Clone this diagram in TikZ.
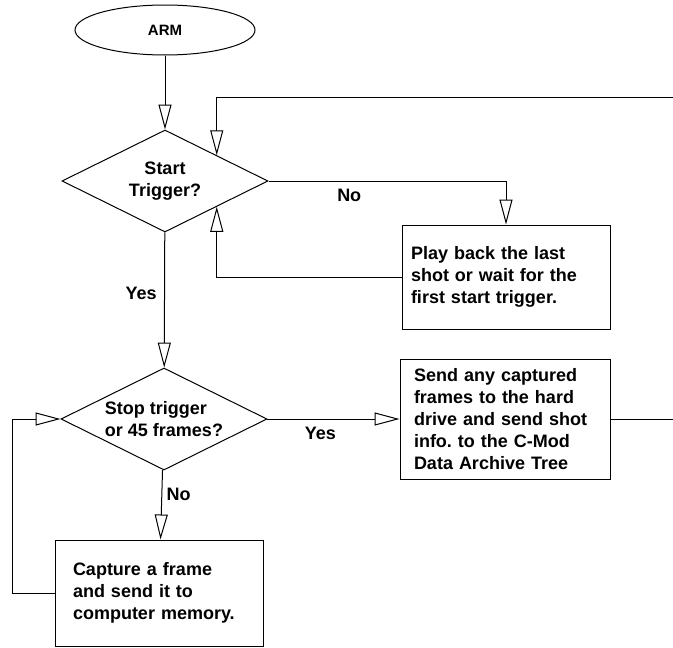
\documentclass[tikz,border=0pt]{standalone}
\usepackage{fontspec}
\setmainfont{Liberation Sans}
\usetikzlibrary{shapes.geometric,arrows.meta}

\begin{document}
\begin{tikzpicture}[x=1pt,y=-1pt,line width=1pt,
    font=\fontsize{18}{22}\selectfont\bfseries,
    decision/.style={draw,diamond,aspect=2,minimum width=206pt,minimum height=102pt,inner sep=0pt},
    process/.style={draw,rectangle,minimum width=208pt,minimum height=104pt,text width=190pt,inner xsep=0pt,align=left},
    flow/.style={-{Triangle[open,length=25pt,width=13pt]}}]
  \useasboundingbox (0,0) rectangle (673,648);
  \node[draw,ellipse,minimum width=180pt,minimum height=50pt,font=\fontsize{15}{18}\selectfont\bfseries] (arm) at (165,30) {ARM};
  \node[decision,align=center] (start) at (165,181) {Start\\Trigger?};
  \node[process] (playback) at (506,277) {Play back the last\\shot or wait for the\\first start trigger.};
  \node[decision,align=left] (stop) at (164,419) {Stop trigger\\or 45 frames?};
  \node[process,minimum width=210pt,minimum height=120pt,text width=182pt] (archive) at (505,419) {Send any captured\\frames to the hard\\drive and send shot\\info.\ to the C-Mod\\Data Archive Tree};
  \node[process,text width=172pt,minimum height=106pt] (capture) at (159,593) {Capture a frame\\and send it to\\computer memory.};
  \coordinate (loopin) at (673,97);
  \coordinate (loopout) at (673,419);

  \path[flow]
    (arm) edge (start)
    (start) edge node[left=4pt,pos=0.45] {Yes} (stop)
    (stop) edge node[below=4pt,pos=0.4] {Yes} (archive)
    (stop) edge node[right=1pt,pos=0.35] {No} (capture);
  \draw[flow] (loopin) -| (start.north east);
  \draw[flow] (start.east) -| node[below=4pt,pos=0.17] {No} (playback.north);
  \draw[flow] (playback.west) -| (start.south east);
  \draw[flow] (capture.west) -- ++(-42,0) |- (stop.west);
  \draw (archive.east) -- (loopout);
\end{tikzpicture}
\end{document}
